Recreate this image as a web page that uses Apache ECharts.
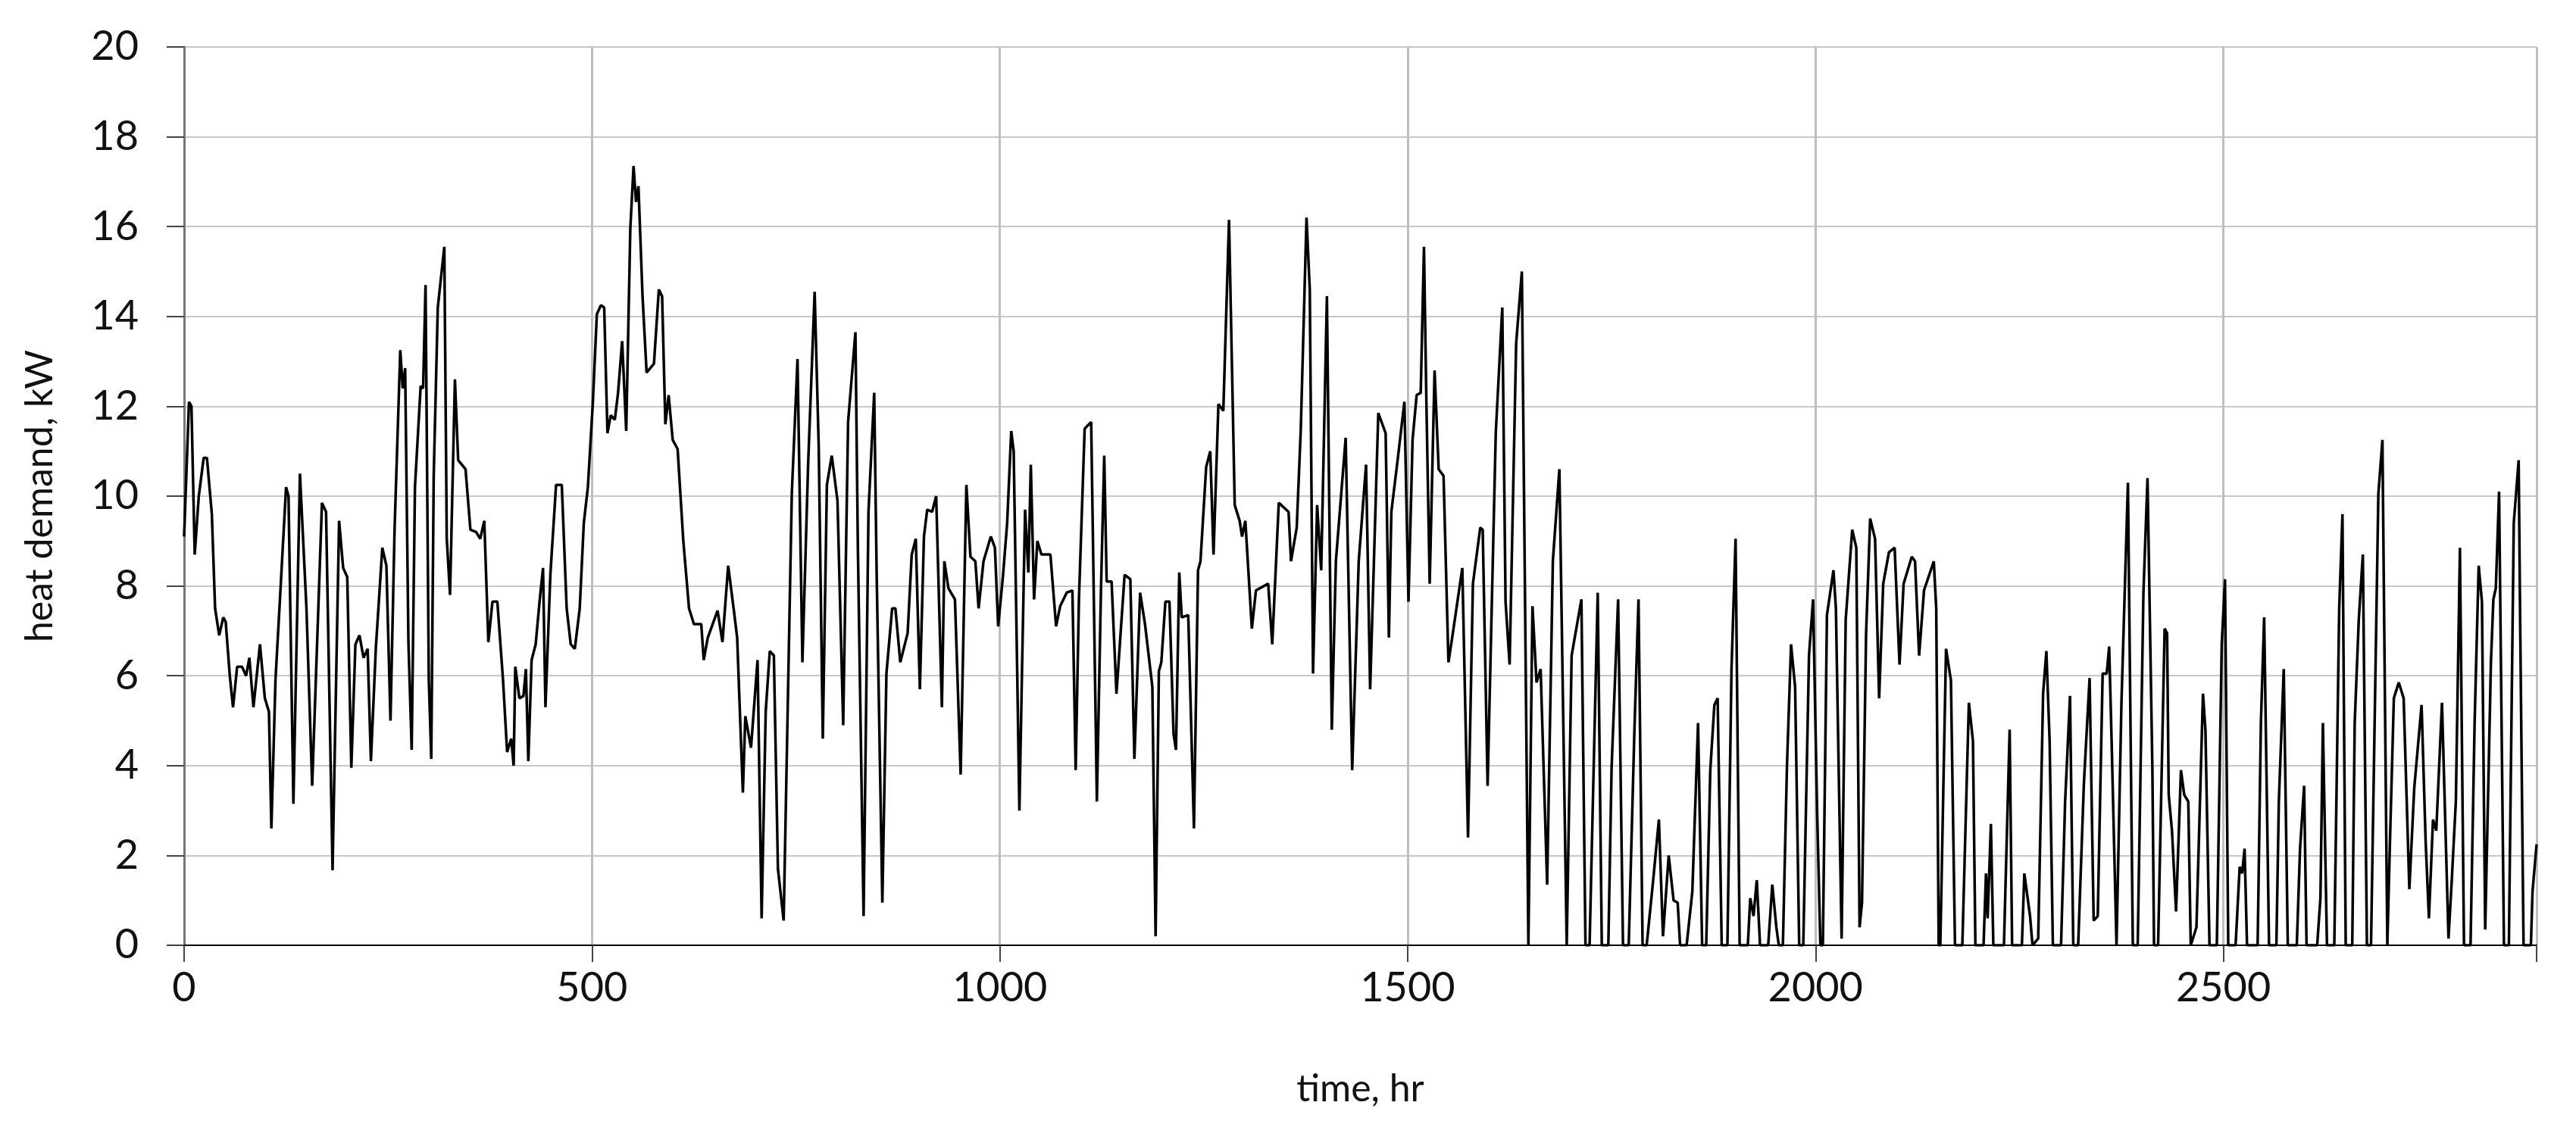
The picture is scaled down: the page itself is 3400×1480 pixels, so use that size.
<!DOCTYPE html>
<html><head><meta charset="utf-8">
<script src="https://cdn.jsdelivr.net/npm/echarts@6/dist/echarts.min.js"></script>
<style>html,body{margin:0;padding:0;background:#fff}#c{width:3400px;height:1480px}</style>
</head><body><div id="c"></div>
<script>
const xTicks = [0, 500, 1000, 1500, 2000, 2500];
const yTicks = [0, 2, 4, 6, 8, 10, 12, 14, 16, 18, 20];
const hours = [0,6,9,13,18,24,28,34,38,43,48,51,56,60,65,71,76,80,85,93,99,104,107,112,119,125,128,134,142,150,157,169,174,182,190,195,200,205,210,215,220,225,229,235,243,248,253,258,265,268,271,275,279,283,290,293,296,300,303,306,311,319,322,326,332,336,345,351,358,363,368,373,378,384,391,396,401,404,406,411,416,419,422,426,431,436,440,443,449,456,463,469,474,479,485,490,495,501,506,511,515,519,523,528,532,537,539,542,547,551,554,557,562,567,576,582,586,590,594,599,605,612,619,625,634,637,642,654,660,667,674,678,685,688,695,703,708,713,718,723,728,735,745,752,758,765,773,778,783,788,794,801,808,814,823,826,833,839,846,849,856,861,868,872,878,887,892,897,902,907,911,917,922,929,932,937,945,952,959,964,970,974,980,989,994,998,1004,1009,1014,1017,1024,1027,1031,1035,1038,1042,1046,1051,1062,1069,1074,1082,1089,1093,1097,1104,1112,1119,1124,1128,1131,1137,1143,1153,1160,1165,1172,1178,1187,1191,1195,1198,1203,1208,1213,1216,1220,1223,1231,1238,1243,1246,1253,1258,1262,1268,1274,1281,1288,1294,1297,1301,1309,1314,1329,1334,1342,1354,1357,1364,1369,1376,1380,1384,1389,1394,1401,1407,1412,1424,1432,1440,1449,1454,1464,1473,1477,1480,1488,1496,1501,1506,1511,1516,1520,1522,1523,1527,1533,1538,1544,1550,1555,1567,1574,1580,1589,1592,1598,1608,1616,1620,1625,1633,1640,1648,1653,1658,1663,1671,1678,1686,1695,1701,1713,1718,1723,1733,1738,1746,1750,1758,1764,1771,1778,1783,1788,1793,1801,1808,1813,1820,1826,1831,1834,1842,1849,1856,1861,1866,1871,1876,1880,1885,1892,1897,1902,1907,1917,1920,1924,1928,1932,1942,1947,1952,1955,1960,1965,1970,1975,1980,1985,1992,1997,2002,2006,2009,2014,2022,2025,2032,2037,2045,2050,2054,2057,2062,2067,2073,2078,2083,2090,2097,2103,2108,2118,2122,2127,2133,2145,2148,2151,2153,2160,2166,2171,2180,2188,2193,2196,2206,2209,2211,2215,2218,2231,2238,2241,2253,2256,2263,2266,2273,2279,2283,2287,2291,2301,2306,2312,2316,2322,2329,2336,2341,2346,2352,2357,2360,2363,2369,2375,2383,2389,2395,2402,2407,2413,2415,2420,2428,2431,2433,2437,2442,2448,2452,2457,2460,2467,2475,2478,2483,2492,2498,2502,2506,2515,2520,2523,2526,2529,2542,2546,2550,2556,2565,2568,2574,2579,2590,2594,2599,2602,2615,2619,2622,2627,2636,2642,2646,2650,2658,2661,2666,2671,2676,2681,2690,2695,2701,2704,2709,2715,2721,2728,2734,2743,2748,2752,2757,2761,2768,2776,2780,2785,2790,2795,2803,2808,2813,2817,2821,2825,2828,2831,2834,2838,2844,2850,2856,2862,2864,2868,2877,2879,2884];
const demand = [9.1,12.1,12.0,8.7,10.0,10.85,10.85,9.6,7.5,6.9,7.3,7.2,6.0,5.3,6.2,6.2,6.0,6.4,5.3,6.7,5.5,5.2,2.6,5.9,8.2,10.2,10.0,3.15,10.5,7.5,3.55,9.85,9.65,1.67,9.45,8.4,8.2,3.95,6.7,6.9,6.4,6.6,4.1,6.6,8.85,8.45,5.0,9.25,13.25,12.4,12.85,6.75,4.35,10.2,12.45,12.4,14.7,5.9,4.15,10.45,14.2,15.55,9.05,7.8,12.6,10.8,10.6,9.25,9.2,9.05,9.45,6.75,7.65,7.65,5.9,4.3,4.6,4.0,6.2,5.5,5.55,6.15,4.1,6.35,6.7,7.7,8.4,5.3,8.25,10.25,10.25,7.5,6.7,6.6,7.5,9.4,10.2,12.05,14.05,14.25,14.2,11.4,11.8,11.7,12.3,13.45,12.65,11.45,15.95,17.35,16.55,16.9,14.45,12.75,12.95,14.6,14.45,11.6,12.25,11.25,11.05,9.0,7.5,7.15,7.15,6.35,6.85,7.45,6.75,8.45,7.45,6.85,3.4,5.1,4.4,6.35,0.6,5.2,6.55,6.45,1.7,0.55,10.05,13.05,6.3,10.7,14.55,11.1,4.6,10.25,10.9,9.9,4.9,11.65,13.65,8.85,0.65,9.65,12.3,8.3,0.95,6.05,7.5,7.5,6.3,6.95,8.7,9.05,5.7,9.1,9.7,9.65,10.0,5.3,8.55,7.95,7.7,3.8,10.25,8.65,8.55,7.5,8.55,9.1,8.85,7.1,8.25,9.4,11.45,11.0,3.0,5.9,9.7,8.3,10.7,7.7,9.0,8.7,8.7,7.1,7.55,7.85,7.9,3.9,7.7,11.5,11.65,3.2,7.9,10.9,8.1,8.1,5.6,8.25,8.15,4.15,7.85,7.15,5.75,0.2,6.1,6.3,7.65,7.65,4.7,4.35,8.3,7.3,7.35,2.6,8.35,8.55,10.65,11.0,8.7,12.05,11.9,16.15,9.8,9.45,9.1,9.45,7.05,7.9,8.05,6.7,9.85,9.65,8.55,9.3,11.5,16.2,14.6,6.05,9.8,8.35,14.45,4.8,8.55,11.3,3.9,8.55,10.7,5.7,11.85,11.4,6.85,9.65,10.85,12.1,7.65,11.25,12.25,12.3,15.55,13.2,12.05,8.05,12.8,10.6,10.45,6.3,6.9,8.4,2.4,8.05,9.3,9.25,3.55,11.4,14.2,7.65,6.25,13.4,15.0,0,7.55,5.85,6.15,1.35,8.55,10.6,0,6.45,7.7,0,0,7.85,0,0,3.95,7.7,0,0,4.8,7.7,0,0,1.45,2.8,0.2,2.0,1.0,0.95,0,0,1.2,4.95,0,0,3.9,5.35,5.5,0,0,6.15,9.05,0,0,1.05,0.65,1.45,0,0,1.35,0.4,0,0,4.0,6.7,5.75,0,0,6.45,7.7,2.95,0,0,7.35,8.35,7.5,0.15,7.25,9.25,8.85,0.4,0.95,6.95,9.5,9.05,5.5,8.05,8.75,8.85,6.25,8.05,8.65,8.55,6.45,7.9,8.55,7.5,0,0,6.6,5.9,0,0,5.4,4.55,0,0,1.6,0.6,2.7,0,0,4.8,0,0,1.6,0.65,0,0.15,5.6,6.55,4.55,0,0,3.2,5.55,0,0,3.6,5.95,0.55,0.65,6.05,6.05,6.65,4.55,0,5.35,10.3,0,0,7.85,10.4,3.9,0,0,7.05,6.95,3.35,2.55,0.75,3.9,3.35,3.2,0,0.4,5.6,4.8,0,0,6.7,8.15,0,0,1.75,1.6,2.15,0,0,4.95,7.3,0,0,3.2,6.15,0,0,2.15,3.55,0,0,1.05,4.95,0,0,7.5,9.6,0,0,4.95,7.25,8.7,0,0,10.05,11.25,0,2.15,5.5,5.85,5.5,1.25,3.5,5.35,2.3,0.6,2.8,2.55,5.4,0.15,1.45,3.2,8.85,0,0,4.95,8.45,7.65,0.35,3.75,6.3,7.7,7.95,10.1,0,0,9.4,10.8,6.95,0,0,1.2,2.25];

const pts = hours.map((h, i) => [h, demand[i]]);
const font = 'Lato, "Open Sans", sans-serif';
const chart = echarts.init(document.getElementById('c'));
chart.setOption({
  animation: false,
  grid: {left: 243, right: 52, top: 62, bottom: 232},
  xAxis: {
    type: 'value', min: 0, max: 2884, interval: 500,
    name: 'time, hr', nameLocation: 'middle', nameGap: 165,
    nameTextStyle: {fontSize: 50, color: '#111', fontFamily: font},
    axisLine: {lineStyle: {color: '#000', width: 2}},
    axisTick: {show: true, length: 22, lineStyle: {color: '#444', width: 2}},
    axisLabel: {fontSize: 54, color: '#111', fontFamily: font, margin: 30,
      formatter: v => xTicks.includes(v) ? String(v) : ''},
    splitLine: {show: true, lineStyle: {color: '#bfbfbf', width: 3}}
  },
  yAxis: {
    type: 'value', min: 0, max: 20, interval: 2,
    name: 'heat demand, kW', nameLocation: 'middle', nameGap: 165,
    nameTextStyle: {fontSize: 50, color: '#111', fontFamily: font},
    axisLine: {show: true, lineStyle: {color: '#777', width: 3}},
    axisTick: {show: true, length: 23, lineStyle: {color: '#444', width: 2}},
    axisLabel: {fontSize: 54, color: '#111', fontFamily: font, margin: 60,
      formatter: v => yTicks.includes(v) ? String(v) : ''},
    splitLine: {show: true, lineStyle: {color: '#c8c8c8', width: 2}}
  },
  series: [{
    type: 'line', data: pts, showSymbol: false, symbol: 'none',
    lineStyle: {color: '#000', width: 3.5}
  }]
});
</script></body></html>
